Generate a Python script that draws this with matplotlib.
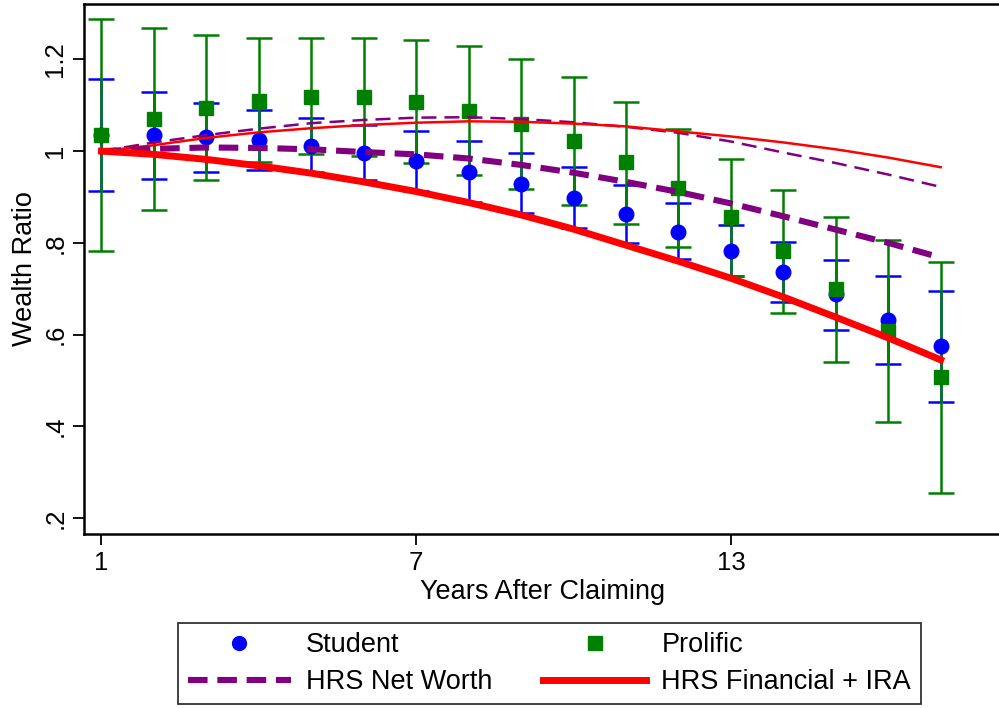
import numpy as np
import matplotlib
matplotlib.use("Agg")
import matplotlib.pyplot as plt
from matplotlib.lines import Line2D

plt.rcParams["font.family"] = ["Liberation Sans", "DejaVu Sans"]

years = [1, 2, 3, 4, 5, 6, 7, 8, 9, 10, 11, 12, 13, 14, 15, 16, 17]

student = [1.035, 1.035, 1.031, 1.024, 1.012, 0.997, 0.978, 0.954, 0.928,
           0.897, 0.863, 0.824, 0.783, 0.736, 0.688, 0.632, 0.575]
student_hi = [1.157, 1.130, 1.105, 1.089, 1.073, 1.056, 1.043, 1.022, 0.996,
              0.965, 0.927, 0.886, 0.840, 0.801, 0.762, 0.727, 0.696]
student_lo = [0.913, 0.939, 0.954, 0.959, 0.955, 0.938, 0.914, 0.890, 0.865,
              0.832, 0.799, 0.764, 0.728, 0.671, 0.610, 0.537, 0.453]

prolific = [1.035, 1.070, 1.095, 1.110, 1.118, 1.118, 1.108, 1.088, 1.060,
            1.022, 0.977, 0.920, 0.857, 0.782, 0.699, 0.609, 0.508]
prolific_hi = [1.287, 1.268, 1.253, 1.246, 1.246, 1.246, 1.242, 1.229, 1.200,
               1.161, 1.108, 1.049, 0.982, 0.916, 0.857, 0.806, 0.759]
prolific_lo = [0.782, 0.872, 0.937, 0.977, 0.993, 0.990, 0.974, 0.947, 0.918,
               0.883, 0.841, 0.790, 0.728, 0.647, 0.541, 0.410, 0.255]

hrs_net_worth = [1.000, 1.005, 1.008, 1.007, 1.004, 0.998, 0.993, 0.984, 0.970,
                 0.953, 0.933, 0.911, 0.886, 0.858, 0.829, 0.800, 0.768]
hrs_fin_ira = [1.000, 0.993, 0.982, 0.968, 0.952, 0.933, 0.912, 0.888, 0.861,
               0.830, 0.795, 0.760, 0.723, 0.682, 0.638, 0.593, 0.545]
# thin versions (not in the legend)
hrs_net_worth_alt = [1.000, 1.019, 1.035, 1.049, 1.061, 1.068, 1.073, 1.074, 1.070,
                     1.063, 1.053, 1.040, 1.021, 0.997, 0.974, 0.949, 0.922]
hrs_fin_ira_alt = [1.000, 1.013, 1.029, 1.041, 1.050, 1.057, 1.062, 1.065, 1.064,
                   1.060, 1.054, 1.043, 1.032, 1.019, 1.004, 0.986, 0.965]

x_ticks = [1, 7, 13]
y_ticks = [0.2, 0.4, 0.6, 0.8, 1.0, 1.2]
y_tick_labels = [".2", ".4", ".6", ".8", "1", "1.2"]

BLUE = "#0000ff"
GREEN = "#008000"
PURPLE = "#800080"
RED = "#ff0000"

fig = plt.figure(figsize=(9.99, 7.08), dpi=100)
ax = fig.add_axes([0.084, 0.2455, 0.918, 0.749])

s = np.array(student)
p = np.array(prolific)
ax.errorbar(years, s, yerr=[s - np.array(student_lo), np.array(student_hi) - s],
            fmt="none", ecolor=BLUE, elinewidth=1.8, capsize=9.5, capthick=1.8, zorder=2)
ax.errorbar(years, p, yerr=[p - np.array(prolific_lo), np.array(prolific_hi) - p],
            fmt="none", ecolor=GREEN, elinewidth=1.8, capsize=9.5, capthick=1.8, zorder=3)
ax.plot(years, student, "o", color=BLUE, markersize=10.5, zorder=4)
ax.plot(years, prolific, "s", color=GREEN, markersize=10.5, zorder=5)

ax.plot(years, hrs_net_worth_alt, color=PURPLE, lw=1.8, dashes=(6, 3.2), zorder=6)
ax.plot(years, hrs_fin_ira_alt, color=RED, lw=1.8, zorder=6)
ax.plot(years, hrs_net_worth, color=PURPLE, lw=4.4, dashes=(3.2, 1.6), zorder=7)
ax.plot(years, hrs_fin_ira, color=RED, lw=5, zorder=7)

ax.set_xlim(0.665, 18.15)
ax.set_ylim(0.165, 1.321)
ax.set_xticks(x_ticks)
ax.set_xticklabels([str(t) for t in x_ticks])
ax.set_yticks(y_ticks)
ax.set_yticklabels(y_tick_labels, rotation=90, va="center")
ax.tick_params(axis="both", labelsize=18.5, length=8, width=1.3, direction="out", pad=4)

for side in ["left", "bottom", "top", "right"]:
    ax.spines[side].set_linewidth(1.8)

ax.set_xlabel("Years After Claiming", fontsize=19.5, labelpad=3)
ax.set_ylabel("Wealth Ratio", fontsize=19.5, labelpad=4)

handles = [
    Line2D([], [], marker="o", ls="none", color=BLUE, markersize=10),
    Line2D([], [], color=PURPLE, lw=4.4, dashes=(3.2, 1.6)),
    Line2D([], [], marker="s", ls="none", color=GREEN, markersize=10),
    Line2D([], [], color=RED, lw=5),
]
labels = ["Student", "HRS Net Worth", "Prolific", "HRS Financial + IRA"]
leg = fig.legend(handles, labels, ncol=2, loc="lower center",
                 bbox_to_anchor=(0.55, 0.005), fontsize=19.5, frameon=True,
                 fancybox=False, edgecolor="black", borderpad=0.35,
                 labelspacing=0.4, handlelength=3.8, handletextpad=0.55,
                 columnspacing=1.9, borderaxespad=0)
leg.get_frame().set_linewidth(1.3)

fig.savefig("out.png", dpi=100)
